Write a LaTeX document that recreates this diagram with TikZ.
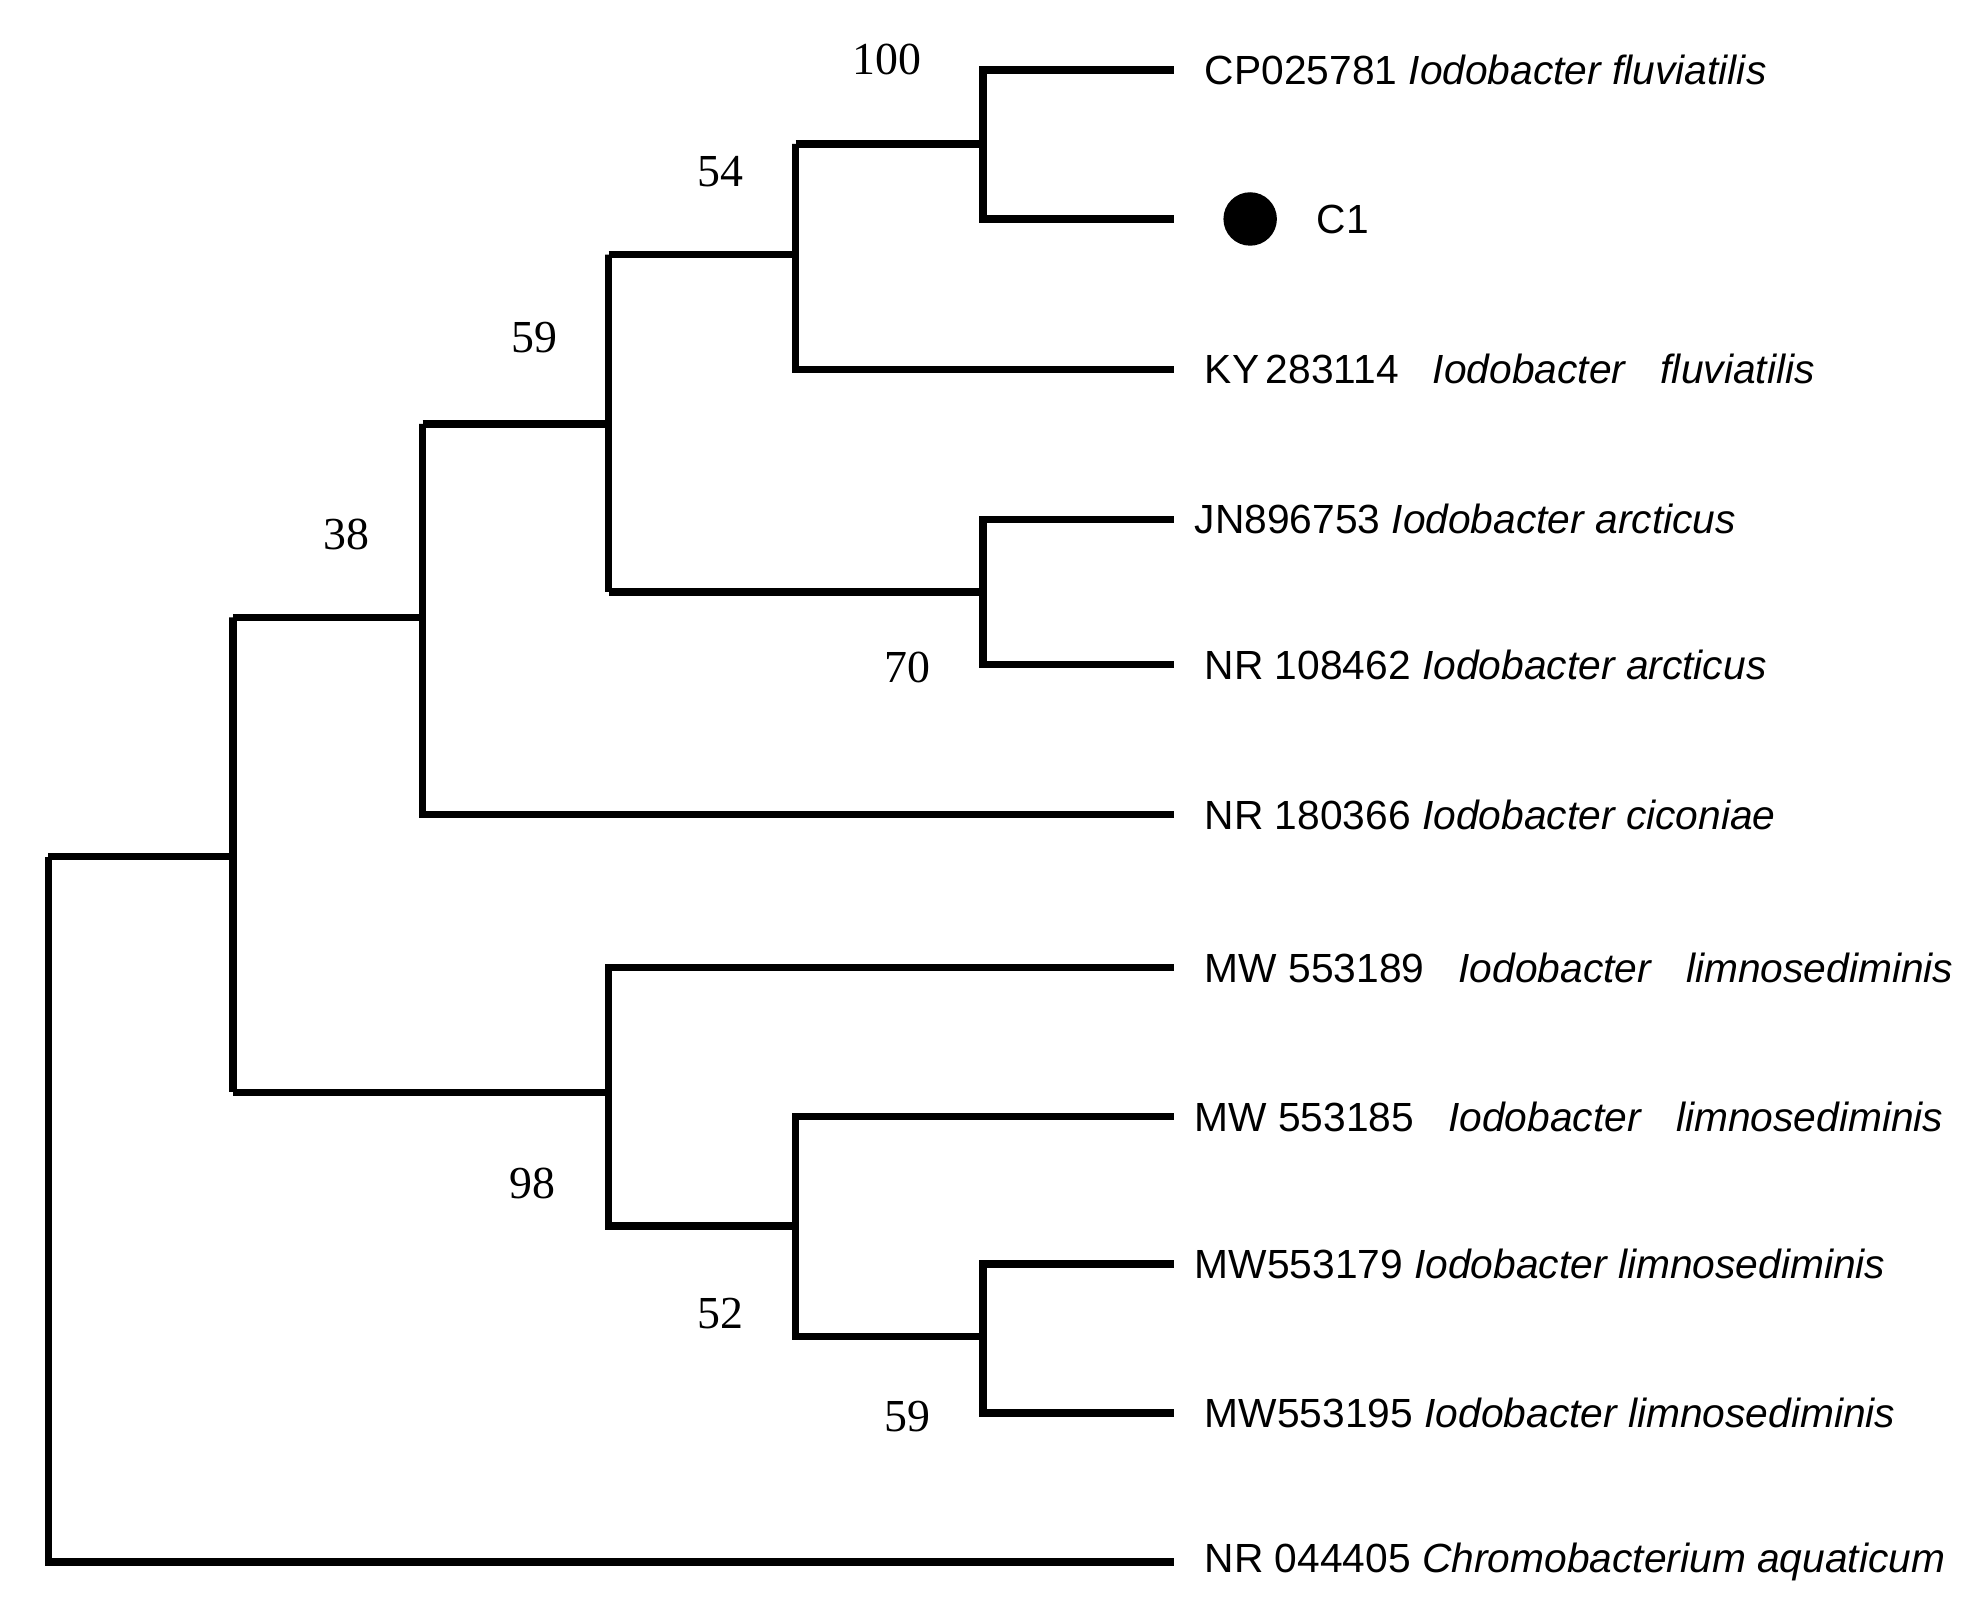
\documentclass[tikz,border=0pt]{standalone}
\usepackage{fontspec}
\setmainfont{Liberation Serif}
\newfontfamily\lab{Liberation Sans}
\begin{document}
\begin{tikzpicture}[x=0.5pt,y=-0.5pt,
 br/.style={line width=2.9pt},
 lf/.style={anchor=west,inner sep=0pt,font=\lab\fontsize{16}{18}\selectfont},
 bs/.style={font=\fontsize{18}{20}\selectfont,inner sep=0pt}]
\useasboundingbox (0,0) rectangle (1560,1260);
% leaves
\foreach \n/\y in {a/55,b/172,c/290,d/408,e/522,f/640,g/760,h/877,i/993,j/1110,k/1227}
  \coordinate (\n) at (922,\y);
% internal nodes (top, bottom)
\coordinate (p1t) at (772,55); \coordinate (p1b) at (772,172);
\coordinate (p2t) at (625,113); \coordinate (p2b) at (625,290);
\coordinate (p3t) at (478,200); \coordinate (p3b) at (478,465);
\coordinate (p4t) at (772,408); \coordinate (p4b) at (772,522);
\coordinate (p5t) at (332,333); \coordinate (p5b) at (332,640);
\coordinate (p6t) at (183,485); \coordinate (p6b) at (183,858);
\coordinate (rt) at (38,673); \coordinate (rb) at (38,1227);
\coordinate (q1t) at (478,760); \coordinate (q1b) at (478,963);
\coordinate (q2t) at (625,877); \coordinate (q2b) at (625,1050);
\coordinate (q3t) at (772,993); \coordinate (q3b) at (772,1110);
\draw[br] (a) -| (p1t) -- (p1b) -- (b);
\draw[br] (p2t) -- (p1t |- p2t);
\draw[br] (p3t) -| (p2t) -- (p2b) -- (c);
\draw[br] (d) -| (p4t) -- (p4b) -- (e);
\draw[br] (p3b) -- (p4t |- p3b);
\draw[br] (p5t) -| (p3t) -- (p3b);
\draw[br] (p6t) -| (p5t) -- (p5b) -- (f);
\draw[br] (rt) -| (p6t) -- (p6b);
\draw[br] (rt) -- (rb) -- (k);
\draw[br] (p6b) -- (q1b |- p6b);
\draw[br] (g) -| (q1t) -- (q1b) -- (q2t |- q1b);
\draw[br] (h) -| (q2t) -- (q2b) -- (q3t |- q2b);
\draw[br] (i) -| (q3t) -- (q3b) -- (j);
% bootstrap
\node[bs] at (697,47) {100};
\node[bs] at (566,135) {54};
\node[bs] at (420,265) {59};
\node[bs] at (272,420) {38};
\node[bs] at (713,524) {70};
\node[bs] at (418,930) {98};
\node[bs] at (566,1032) {52};
\node[bs] at (713,1113) {59};
% labels
\node[lf] (la) at (946,55) {CP025781 \textit{Iodobacter fluviatilis}};
\fill (982,172) circle (21);
\node[lf] (lb) at (1034,172) {C1};
\node[lf] (lc) at (946,290) {KY\,283114 \ \ \textit{Iodobacter} \ \ \textit{fluviatilis}};
\node[lf] (ld) at (938,408) {JN896753 \textit{Iodobacter arcticus}};
\node[lf] (le) at (946,522) {NR 108462 \textit{Iodobacter arcticus}};
\node[lf] (lf) at (946,640) {NR 180366 \textit{Iodobacter ciconiae}};
\node[lf] (lg) at (946,760) {MW 553189 \ \ \textit{Iodobacter} \ \ \textit{limnosediminis}};
\node[lf] (lh) at (938,877) {MW 553185 \ \ \textit{Iodobacter} \ \ \textit{limnosediminis}};
\node[lf] (li) at (938,993) {MW553179 \textit{Iodobacter limnosediminis}};
\node[lf] (lj) at (946,1110) {MW553195 \textit{Iodobacter limnosediminis}};
\node[lf] (lk) at (946,1227) {NR 044405 \textit{Chromobacterium aquaticum}};
\end{tikzpicture}
\end{document}
